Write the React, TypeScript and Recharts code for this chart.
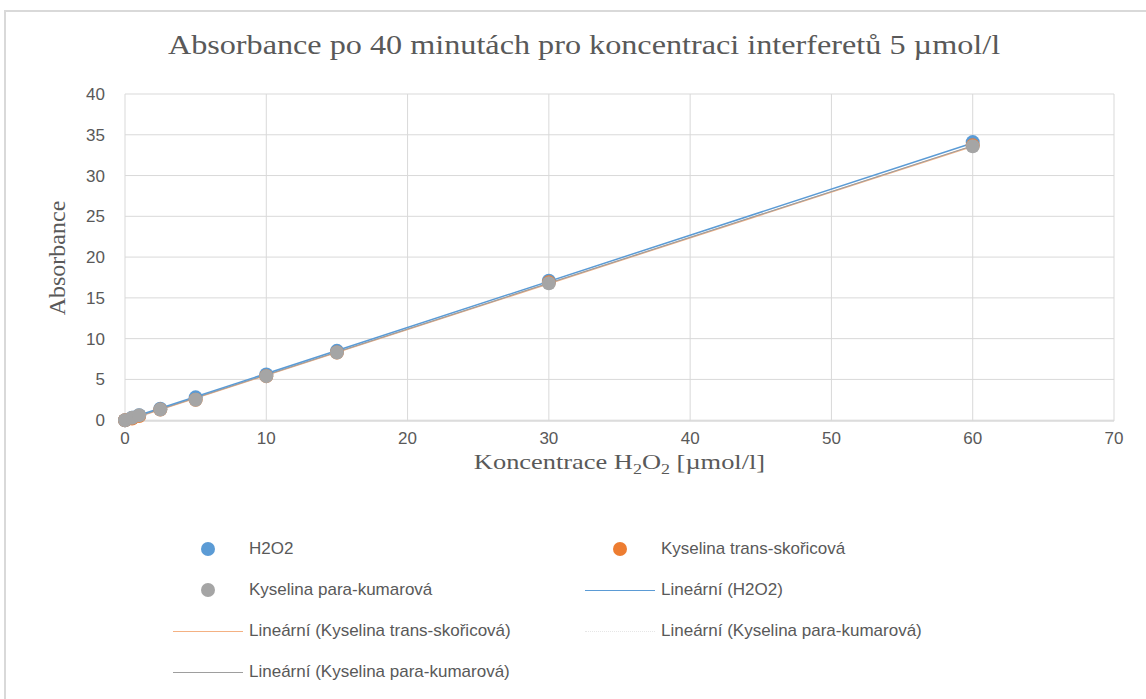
import React from 'react';
import { ComposedChart, Scatter, Line, XAxis, YAxis, CartesianGrid } from 'recharts';

const concentrations = [0, 0.5, 1, 2.5, 5, 10, 15, 30, 60];
const h2o2Values = [0, 0.3, 0.6, 1.4, 2.8, 5.6, 8.5, 17.1, 34.1];
const transValues = [0, 0.2, 0.5, 1.3, 2.5, 5.4, 8.3, 16.9, 33.7];
const paraValues = [0, 0.3, 0.6, 1.3, 2.5, 5.4, 8.3, 16.8, 33.6];

// trend line end points
const trendX = [0, 60];
const h2o2Trend = [0.05, 34.0];
const transTrend = [-0.1, 33.6];
const paraTrend = [-0.05, 33.65];

const xTicks = [0, 10, 20, 30, 40, 50, 60, 70];
const yTicks = [0, 5, 10, 15, 20, 25, 30, 35, 40];

const toPoints = (ys: number[]) => concentrations.map((x, i) => ({ x, y: ys[i] }));
const toTrend = (ys: number[]) => trendX.map((x, i) => ({ x, y: ys[i] }));

const SERIF = '"Liberation Serif", "Times New Roman", serif';
const SANS = '"Liberation Sans Narrow", "Liberation Sans", "Noto Sans", sans-serif';
const TEXT = '#595959';

const dot = (color: string) => (p: any) => <circle cx={p.cx} cy={p.cy} r={7} fill={color} />;

function LegendItem({ kind, color, label, dashed }: { kind: 'dot' | 'line'; color: string; label: string; dashed?: boolean }) {
  return (
    <div style={{ display: 'flex', alignItems: 'center', height: 24 }}>
      <div style={{ width: 70, display: 'flex', justifyContent: 'center', alignItems: 'center' }}>
        {kind === 'dot' ? (
          <div style={{ width: 14, height: 14, borderRadius: 7, background: color }} />
        ) : (
          <div style={{ width: 70, borderTop: `1.5px ${dashed ? 'dotted' : 'solid'} ${color}` }} />
        )}
      </div>
      <span style={{ marginLeft: 6, fontFamily: SANS, fontSize: 17, color: TEXT, whiteSpace: 'nowrap' }}>{label}</span>
    </div>
  );
}

export default function App() {
  return (
    <div style={{ position: 'fixed', left: 0, top: 0, width: 1146, height: 699, background: '#fff', overflow: 'hidden' }}>
      <div style={{ position: 'absolute', left: 4, top: 10, width: 1160, height: 720, border: '2px solid #d9d9d9' }} />
      <div
        style={{
          position: 'absolute', top: 29, left: 11, width: 1146, textAlign: 'center',
          fontFamily: SERIF, fontSize: 28, color: TEXT, transform: 'scaleX(1.15)',
        }}
      >
        Absorbance po 40 minutách pro koncentraci interferetů 5 µmol/l
      </div>
      <div
        style={{
          position: 'absolute', left: 57, top: 258, transform: 'translate(-50%, -50%) rotate(-90deg)',
          fontFamily: SERIF, fontSize: 24, color: TEXT, whiteSpace: 'nowrap',
        }}
      >
        Absorbance
      </div>
      <div
        style={{
          position: 'absolute', top: 451, left: 125, width: 989, textAlign: 'center', lineHeight: '22px',
          fontFamily: SERIF, fontSize: 22, color: TEXT, transform: 'scaleX(1.2)',
        }}
      >
        Koncentrace H<sub style={{ fontSize: 15, lineHeight: 0 }}>2</sub>O<sub style={{ fontSize: 15, lineHeight: 0 }}>2</sub> [µmol/l]
      </div>
      <div style={{ position: 'absolute', left: 0, top: 0 }}>
        <ComposedChart width={1146} height={699} margin={{ top: 94, right: 32, bottom: 248, left: 65 }}>
          <CartesianGrid stroke="#d9d9d9" strokeWidth={1} />
          <XAxis
            type="number"
            dataKey="x"
            domain={[0, 70]}
            ticks={xTicks}
            height={30}
            axisLine={{ stroke: '#d9d9d9' }}
            tickLine={false}
            tick={{ fill: TEXT, fontSize: 17, fontFamily: SANS }}
            tickMargin={5}
            allowDuplicatedCategory={false}
          />
          <YAxis
            type="number"
            dataKey="y"
            domain={[0, 40]}
            ticks={yTicks}
            width={60}
            axisLine={false}
            tickLine={false}
            tick={{ fill: TEXT, fontSize: 17, fontFamily: SANS }}
            tickMargin={14}
          />
          <Scatter data={toPoints(h2o2Values)} fill="#5b9bd5" shape={dot('#5b9bd5')} isAnimationActive={false} />
          <Scatter data={toPoints(transValues)} fill="#ed7d31" shape={dot('#ed7d31')} isAnimationActive={false} />
          <Scatter data={toPoints(paraValues)} fill="#a5a5a5" shape={dot('#a5a5a5')} isAnimationActive={false} />
          <Line data={toTrend(transTrend)} dataKey="y" stroke="#f4b183" strokeWidth={1.5} dot={false} isAnimationActive={false} />
          <Line data={toTrend(paraTrend)} dataKey="y" stroke="#9e9e9e" strokeWidth={1.2} dot={false} isAnimationActive={false} />
          <Line data={toTrend(h2o2Trend)} dataKey="y" stroke="#5b9bd5" strokeWidth={1.5} dot={false} isAnimationActive={false} />
        </ComposedChart>
      </div>
      <div style={{ position: 'absolute', left: 173, top: 537, display: 'grid', gridTemplateColumns: '412px 400px', rowGap: 17 }}>
        <LegendItem kind="dot" color="#5b9bd5" label="H2O2" />
        <LegendItem kind="dot" color="#ed7d31" label="Kyselina trans-skořicová" />
        <LegendItem kind="dot" color="#a5a5a5" label="Kyselina para-kumarová" />
        <LegendItem kind="line" color="#5b9bd5" label="Lineární (H2O2)" />
        <LegendItem kind="line" color="#f4b183" label="Lineární (Kyselina trans-skořicová)" />
        <LegendItem kind="line" color="#e6e6e6" label="Lineární (Kyselina para-kumarová)" dashed />
        <LegendItem kind="line" color="#9e9e9e" label="Lineární (Kyselina para-kumarová)" />
      </div>
    </div>
  );
}
